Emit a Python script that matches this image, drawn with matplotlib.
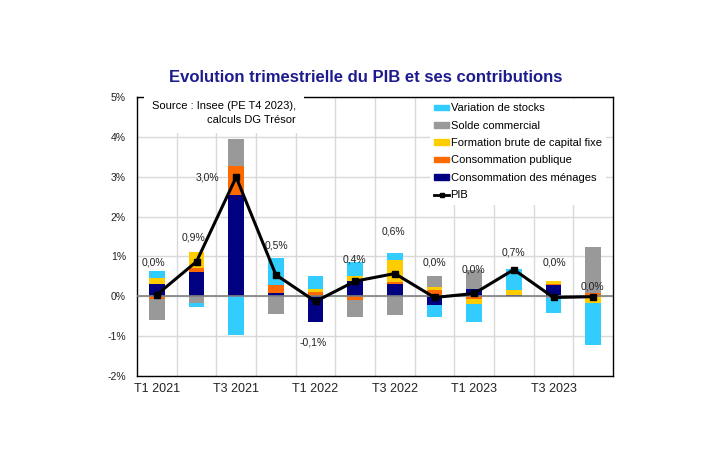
import numpy as np
import matplotlib
matplotlib.use('Agg')
import matplotlib.pyplot as plt
from matplotlib.lines import Line2D
from matplotlib.patches import Patch

plt.rcParams['font.family'] = ['Liberation Sans', 'DejaVu Sans']

quarters = ['T1 2021', 'T2 2021', 'T3 2021', 'T4 2021',
            'T1 2022', 'T2 2022', 'T3 2022', 'T4 2022',
            'T1 2023', 'T2 2023', 'T3 2023', 'T4 2023']

# contributions (points de %)
menages = [0.32, 0.60, 2.55, 0.08, -0.64, 0.38, 0.31, -0.22, 0.18, 0.02, 0.28, 0.00]
publique = [-0.08, 0.11, 0.73, 0.20, 0.10, -0.10, 0.06, 0.16, -0.07, 0.02, 0.03, 0.07]
fbcf = [0.13, 0.40, 0.00, 0.00, 0.08, 0.13, 0.54, 0.08, -0.13, 0.13, 0.08, -0.18]
solde = [-0.51, -0.18, 0.66, -0.44, 0.00, -0.43, -0.46, 0.26, 0.49, 0.00, -0.04, 1.17]
stocks = [0.18, -0.08, -0.96, 0.68, 0.32, 0.36, 0.17, -0.30, -0.45, 0.51, -0.37, -1.05]
pib = [0.04, 0.87, 2.99, 0.54, -0.13, 0.38, 0.57, -0.03, 0.07, 0.67, -0.03, -0.01]
pib_labels = ['0,0%', '0,9%', '3,0%', '0,5%', '-0,1%', '0,4%',
              '0,6%', '0,0%', '0,0%', '0,7%', '0,0%', '0,0%']

# label offsets (pixels) relative to the PIB points
lab_dx = [-3, -3, -29, 1, -2, -1, -1, 0, -1, 0, 1, -1]
lab_dy = [32, 24, 0, 29, -41, 22, 42, 35, 24, 17, 35, 10]

series = [
    ('Consommation des ménages', menages, '#000080'),
    ('Consommation publique', publique, '#FF6A00'),
    ('Formation brute de capital fixe', fbcf, '#FFCC00'),
    ('Solde commercial', solde, '#999999'),
    ('Variation de stocks', stocks, '#33CCFF'),
]

fig = plt.figure(figsize=(7.22, 4.51), dpi=100)
ax = fig.add_axes([137 / 722, 1 - 376 / 451, 476 / 722, 279 / 451])

x = np.arange(len(quarters))
pos_base = np.zeros(len(x))
neg_base = np.zeros(len(x))
for name, vals, col in series:
    v = np.array(vals)
    bottom = np.where(v >= 0, pos_base, neg_base)
    ax.bar(x, v, 0.4, bottom=bottom, color=col, zorder=3)
    pos_base += np.where(v >= 0, v, 0)
    neg_base += np.where(v < 0, v, 0)

ax.axhline(0, color='#7f7f7f', lw=1.2, zorder=4)
ax.plot(x, pib, color='black', lw=2.2, marker='s', ms=4.5, zorder=5)

for i in range(len(x)):
    ax.annotate(pib_labels[i], (x[i], pib[i]),
                xytext=(lab_dx[i] * 0.72, lab_dy[i] * 0.72), textcoords='offset points',
                ha='center', va='center', fontsize=7.5, color='#222222', zorder=6)

ax.set_xlim(-0.5, len(x) - 0.5)
ax.set_ylim(-2, 5)
ax.set_yticks(range(-2, 6))
ax.set_yticklabels([f'{t}%' for t in range(-2, 6)], fontsize=7.5)
ax.set_xticks(x[::2])
ax.set_xticklabels(quarters[::2], fontsize=9)
ax.set_xticks(np.arange(0.5, len(x) - 0.5, 1), minor=True)
ax.tick_params(axis='both', which='both', length=0, colors='#222222')
ax.tick_params(axis='y', pad=8)
ax.tick_params(axis='x', pad=5)
ax.grid(axis='y', which='major', color='#D9D9D9', lw=1, zorder=0)
ax.grid(axis='x', which='minor', color='#D9D9D9', lw=1, zorder=0)
for s in ax.spines.values():
    s.set_color('black')
    s.set_linewidth(1)

fig.text(366 / 722, 1 - 78 / 451, 'Evolution trimestrielle du PIB et ses contributions',
         ha='center', va='center', fontsize=12, fontweight='bold', color='#1C1C8E')

ax.text(296 / 722, 1 - 101 / 451, 'Source : Insee (PE T4 2023),\ncalculs DG Trésor',
        transform=fig.transFigure, ha='right', va='top', fontsize=8, multialignment='right',
        linespacing=1.5, zorder=7,
        bbox=dict(facecolor='white', edgecolor='none', pad=6))

handles = [Patch(color=c) for _, _, c in series[::-1]]
handles.append(Line2D([0], [0], color='black', lw=2, marker='s', ms=3.5))
labels = [n for n, _, _ in series[::-1]] + ['PIB']
leg = ax.legend(handles, labels, loc='upper left', bbox_to_anchor=(430 / 722, 1 - 99 / 451),
                bbox_transform=fig.transFigure, fontsize=8, frameon=True, fancybox=False,
                handlelength=1.35, handleheight=0.45, handletextpad=0.1, labelspacing=0.66,
                borderpad=0.4, borderaxespad=0)
leg.get_frame().set_facecolor('white')
leg.get_frame().set_edgecolor('none')
leg.get_frame().set_alpha(1)
leg.set_zorder(7)

fig.savefig('out.png', dpi=100)
